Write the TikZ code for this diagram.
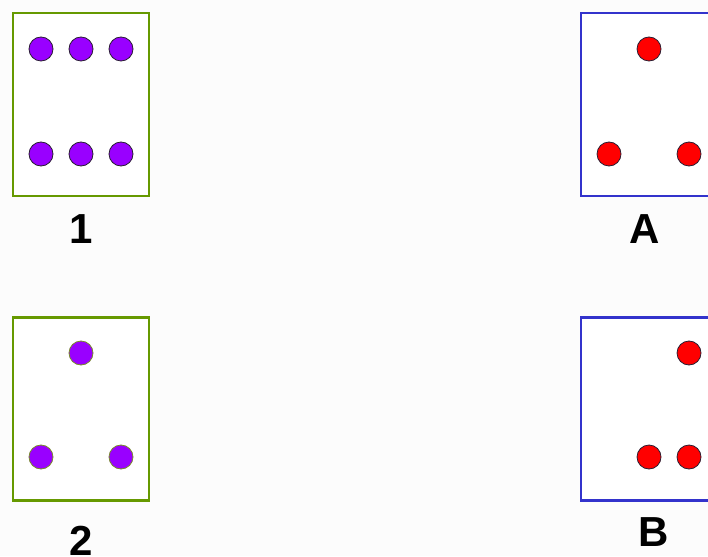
\documentclass[tikz,border=0pt]{standalone}
\usepackage{fontspec}
\setmainfont{Liberation Sans}
\definecolor{boxgreen}{RGB}{102,153,0}
\definecolor{boxblue}{RGB}{51,51,204}
\definecolor{dotpurple}{RGB}{153,0,255}
\definecolor{dotred}{RGB}{255,0,0}
\definecolor{dotedge}{RGB}{40,30,50}
\definecolor{oliveedge}{RGB}{120,140,40}
\begin{document}
\begin{tikzpicture}[x=1pt,y=-1pt,
  gbox/.style={draw=boxgreen,line width=2.8pt,minimum width=136pt,minimum height=183pt,inner sep=0pt,fill=white},
  bbox/.style={draw=boxblue,line width=2.8pt,minimum width=136pt,minimum height=183pt,inner sep=0pt,fill=white},
  pdot/.style={circle,fill=dotpurple,draw=dotedge,line width=0.8pt,minimum size=24pt,inner sep=0pt},
  pdot2/.style={circle,fill=dotpurple,draw=oliveedge,line width=0.8pt,minimum size=24pt,inner sep=0pt},
  rdot/.style={circle,fill=dotred,draw=dotedge,line width=0.8pt,minimum size=24pt,inner sep=0pt},
  lab/.style={font=\bfseries\fontsize{42}{42}\selectfont,inner sep=0pt}]
\fill[white!99!black] (0,0) rectangle (708,556);
\useasboundingbox (0,0) rectangle (708,556);
% box 1
\node[gbox] (b1) at (81,104.5) {};
\node[pdot] (p11) at (41,49) {};
\node[pdot] (p12) at (81,49) {};
\node[pdot] (p13) at (121,49) {};
\node[pdot] (p14) at (41,154) {};
\node[pdot] (p15) at (81,154) {};
\node[pdot] (p16) at (121,154) {};
\node[lab] (l1) at (81,229) {1};
% box A
\node[bbox] (bA) at (649,104.5) {};
\node[rdot] (rA1) at (649,49) {};
\node[rdot] (rA2) at (609,154) {};
\node[rdot] (rA3) at (689,154) {};
\node[lab] (lA) at (645,229) {A};
% box 2
\node[gbox] (b2) at (81,409) {};
\node[pdot2] (p21) at (81,353) {};
\node[pdot2] (p22) at (41,457) {};
\node[pdot2] (p23) at (121,457) {};
\node[lab] (l2) at (81,541) {2};
% box B
\node[bbox] (bB) at (649,409) {};
\node[rdot] (rB1) at (689,353) {};
\node[rdot] (rB2) at (649,457) {};
\node[rdot] (rB3) at (689,457) {};
\node[lab] (lB) at (654,532) {B};
\end{tikzpicture}
\end{document}
